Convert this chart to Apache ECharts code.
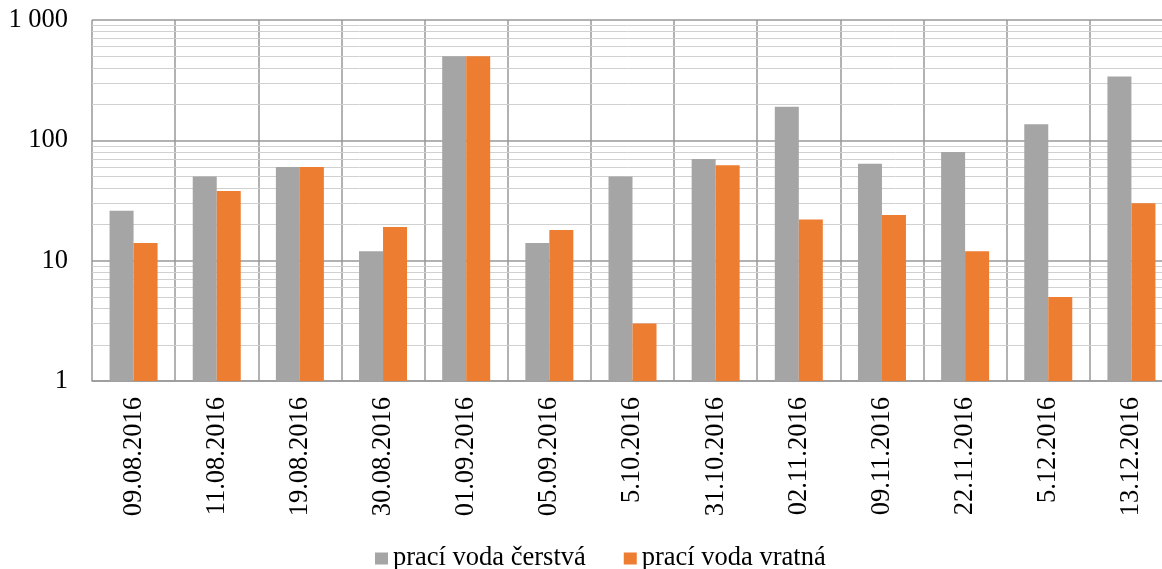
<!DOCTYPE html>
<html>
<head>
<meta charset="utf-8">
<script src="https://cdn.jsdelivr.net/npm/echarts@6/dist/echarts.min.js"></script>
<style>
  html, body { margin: 0; padding: 0; background: #fff; }
  #chart { width: 1162px; height: 569px; }
</style>
</head>
<body>
<div id="chart"></div>
<script>
const dates = [
  "09.08.2016", "11.08.2016", "19.08.2016", "30.08.2016", "01.09.2016",
  "05.09.2016", "5.10.2016", "31.10.2016", "02.11.2016", "09.11.2016",
  "22.11.2016", "5.12.2016", "13.12.2016"
];
const fresh = [26, 50, 60, 12, 500, 14, 50, 70, 190, 64, 80, 136, 340];
const returned = [14, 38, 60, 19, 500, 18, 3, 62, 22, 24, 12, 5, 30];

// minor log grid lines (2..9 within each decade)
const minorLines = [];
[1, 10, 100].forEach(d => {
  for (let k = 2; k <= 9; k++) minorLines.push({ yAxis: k * d });
});

const font = "'Liberation Serif', 'Times New Roman', serif";
const myChart = echarts.init(document.getElementById("chart"));

const option = {
  animation: false,
  grid: { left: 92, top: 20, width: 1081, height: 361, outerBoundsMode: "none", containLabel: false },
  legend: {
    left: 375,
    top: 545,
    padding: 0,
    itemWidth: 13,
    itemHeight: 12,
    itemGap: 38,
    icon: "rect",
    textStyle: { fontFamily: font, fontSize: 26.5, color: "#000" },
    data: ["prací voda čerstvá", "prací voda vratná"]
  },
  xAxis: {
    type: "category",
    data: dates,
    axisLine: { lineStyle: { color: "#999", width: 1.5 } },
    axisTick: { show: false },
    splitLine: { show: true, interval: 0, lineStyle: { color: "#999", width: 1.5 } },
    axisLabel: {
      interval: 0,
      rotate: 90,
      margin: 16,
      fontFamily: font,
      fontSize: 26.5,
      color: "#000"
    }
  },
  yAxis: {
    type: "log",
    logBase: 10,
    min: 1,
    max: 1000,
    axisLine: { show: false },
    axisTick: { show: false },
    splitLine: { lineStyle: { color: "#999", width: 1.5 } },
    axisLabel: {
      margin: 24,
      fontFamily: font,
      fontSize: 26.5,
      color: "#000",
      formatter: v => (v === 1000 ? "1 000" : String(v))
    }
  },
  series: [
    {
      name: "prací voda čerstvá",
      type: "bar",
      data: fresh,
      barWidth: 24,
      barGap: 0,
      itemStyle: { color: "#A5A5A5" },
      markLine: {
        silent: true,
        z: 1,
        symbol: "none",
        label: { show: false },
        lineStyle: { color: "#d0d0d0", width: 1, type: "solid" },
        data: minorLines
      }
    },
    {
      name: "prací voda vratná",
      type: "bar",
      data: returned,
      barWidth: 24,
      barGap: 0,
      itemStyle: { color: "#ED7D31" }
    }
  ]
};
myChart.setOption(option);
</script>
</body>
</html>
